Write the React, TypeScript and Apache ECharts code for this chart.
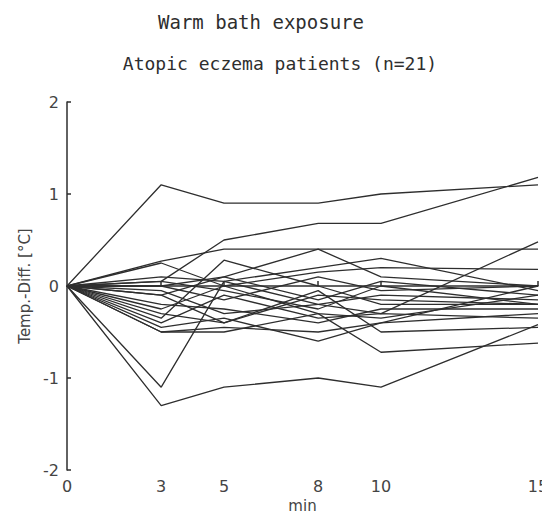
import React, { useEffect, useRef } from "react";
import * as echarts from "echarts";

const minutes = [0, 3, 5, 8, 10, 15];
const xTickLabels = [0, 3, 5, 8, 10, 15];
const xTickMarks = [3, 5, 8, 10, 15];

const patient01 = [0, 1.1, 0.9, 0.9, 1.0, 1.1];
const patient02 = [0, 0.05, 0.5, 0.68, 0.68, 1.18];
const patient03 = [0, 0.27, 0.4, 0.4, 0.4, 0.4];
const patient04 = [0, 0.25, 0.0, -0.3, -0.35, -0.1];
const patient05 = [0, -0.35, 0.28, 0.0, -0.2, -0.2];
const patient06 = [0, 0.0, 0.1, 0.4, 0.1, 0.0];
const patient07 = [0, 0.1, 0.05, 0.2, 0.3, -0.05];
const patient08 = [0, -1.1, 0.05, -0.2, -0.3, 0.48];
const patient09 = [0, -1.3, -1.1, -1.0, -1.1, -0.42];
const patient10 = [0, -0.5, -0.5, -0.3, -0.72, -0.62];
const patient11 = [0, -0.45, -0.35, -0.6, -0.4, -0.3];
const patient12 = [0, -0.4, -0.1, -0.35, -0.3, -0.35];
const patient13 = [0, -0.3, -0.4, -0.1, -0.15, -0.2];
const patient14 = [0, -0.2, -0.25, -0.4, -0.25, -0.25];
const patient15 = [0, -0.1, 0.1, -0.15, 0.05, -0.1];
const patient16 = [0, -0.05, -0.3, -0.2, -0.1, -0.15];
const patient17 = [0, 0.0, -0.15, 0.1, -0.05, 0.0];
const patient18 = [0, 0.05, -0.05, -0.25, 0.0, -0.2];
const patient19 = [0, -0.1, -0.4, -0.05, -0.5, -0.45];
const patient20 = [0, -0.25, 0.0, 0.15, 0.2, 0.18];
const patient21 = [0, -0.5, -0.45, -0.5, -0.4, 0.0];

const patients = [
  patient01, patient02, patient03, patient04, patient05, patient06, patient07,
  patient08, patient09, patient10, patient11, patient12, patient13, patient14,
  patient15, patient16, patient17, patient18, patient19, patient20, patient21,
];

const titleText = "Warm bath exposure";
const subtitleText = "Atopic eczema patients (n=21)";
const yName = "Temp.-Diff. [°C]";
const xName = "min";

export default function App() {
  const ref = useRef<HTMLDivElement>(null);
  useEffect(() => {
    if (!ref.current) return;
    const chart = echarts.init(ref.current, undefined, { renderer: "svg" });
    const ink = "#2e2e2e";
    const labelFont = "DejaVu Sans";
    chart.setOption({
      animation: false,
      backgroundColor: "#ffffff",
      graphic: [
        {
          type: "text",
          x: 253,
          y: 14,
          style: {
            text: titleText,
            fontFamily: "DejaVu Sans Mono",
            fontSize: 19,
            fill: ink,
            align: "center",
            verticalAlign: "middle",
          },
        },
        {
          type: "text",
          x: 272,
          y: 55,
          style: {
            text: subtitleText,
            fontFamily: "DejaVu Sans Mono",
            fontSize: 18,
            fill: ink,
            align: "center",
            verticalAlign: "middle",
          },
        },
      ],
      grid: {
        left: 59,
        right: 12,
        top: 94,
        bottom: 47,
        containLabel: false,
        outerBoundsMode: "none",
      },
      xAxis: {
        type: "value",
        min: 0,
        max: 15,
        name: xName,
        nameLocation: "middle",
        nameGap: 28,
        nameTextStyle: { fontFamily: labelFont, fontSize: 15, color: "#444" },
        axisLine: { show: true, lineStyle: { color: ink, width: 1.5 } },
        axisTick: {
          show: true,
          inside: true,
          length: 5,
          customValues: xTickMarks,
          lineStyle: { color: ink, width: 1.5 },
        },
        axisLabel: {
          customValues: xTickLabels,
          fontFamily: labelFont,
          fontSize: 16,
          color: "#444",
          margin: 8,
        },
        splitLine: { show: false },
      },
      yAxis: {
        type: "value",
        min: -2,
        max: 2,
        interval: 1,
        name: yName,
        nameLocation: "middle",
        nameGap: 34,
        nameRotate: 90,
        nameTextStyle: { fontFamily: labelFont, fontSize: 15, color: "#444" },
        axisLine: { show: true, lineStyle: { color: ink, width: 1.5 } },
        axisTick: { show: true, inside: true, length: 4, lineStyle: { color: ink, width: 1.5 } },
        axisLabel: { fontFamily: labelFont, fontSize: 16, color: "#444", margin: 8 },
        splitLine: { show: false },
      },
      series: patients.map((vals, i) => ({
        name: "P" + (i + 1),
        type: "line",
        data: minutes.map((m, j) => [m, vals[j]]),
        showSymbol: false,
        symbol: "none",
        lineStyle: { color: ink, width: 1.3 },
        silent: true,
      })),
    });
    return () => chart.dispose();
  }, []);
  return <div ref={ref} style={{ width: 542, height: 509 }} />;
}
